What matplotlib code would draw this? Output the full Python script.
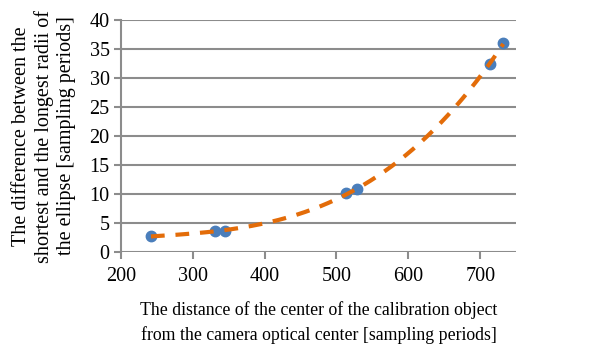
import numpy as np
import matplotlib
matplotlib.use("Agg")
import matplotlib.pyplot as plt

# measured points
distance = [242, 331, 345, 513, 529, 714, 732]
radii_diff = [2.7, 3.7, 3.6, 10.1, 10.8, 32.5, 36.0]

x_ticks = [200, 300, 400, 500, 600, 700]
y_ticks = [0, 5, 10, 15, 20, 25, 30, 35, 40]

plt.rcParams['font.family'] = ['Liberation Serif', 'DejaVu Serif']

fig = plt.figure(figsize=(6.16, 3.51), dpi=100)
ax = fig.add_axes([0.196, 0.282, 0.642, 0.661])

# polynomial trendline (like Excel)
coef = np.polyfit(distance, radii_diff, 3)
xs = np.linspace(min(distance), max(distance), 200)
ax.plot(xs, np.polyval(coef, xs), color='#E36C09', lw=3,
        dashes=(3.3, 2.6), zorder=3)

ax.plot(distance, radii_diff, 'o', color='#4A7EBB', markersize=7.5, zorder=2)

ax.set_xlim(200, 750)
ax.set_ylim(0, 40)
ax.set_xticks(x_ticks)
ax.set_yticks(y_ticks)
ax.yaxis.grid(True, color='#8C8C8C', lw=1.5)
ax.set_axisbelow(True)
for s in ['top', 'right', 'bottom']:
    ax.spines[s].set_visible(False)
ax.spines['left'].set_color('#8C8C8C')
ax.spines['left'].set_linewidth(1.5)
ax.tick_params(axis='both', colors='#8C8C8C', width=1.5, length=5,
               labelcolor='black', labelsize=14.5)
ax.tick_params(axis='x', pad=6)
ax.tick_params(axis='y', pad=3)

ax.set_xlabel('The distance of the center of the calibration object\n'
              'from the camera optical center [sampling periods]',
              fontsize=12.8, labelpad=11, linespacing=1.45)
ax.set_ylabel('The difference between the\n'
              'shortest and the longest radii of\n'
              'the ellipse [sampling periods]',
              fontsize=14.5, labelpad=10, linespacing=1.2)

fig.savefig('out.png', dpi=100)
